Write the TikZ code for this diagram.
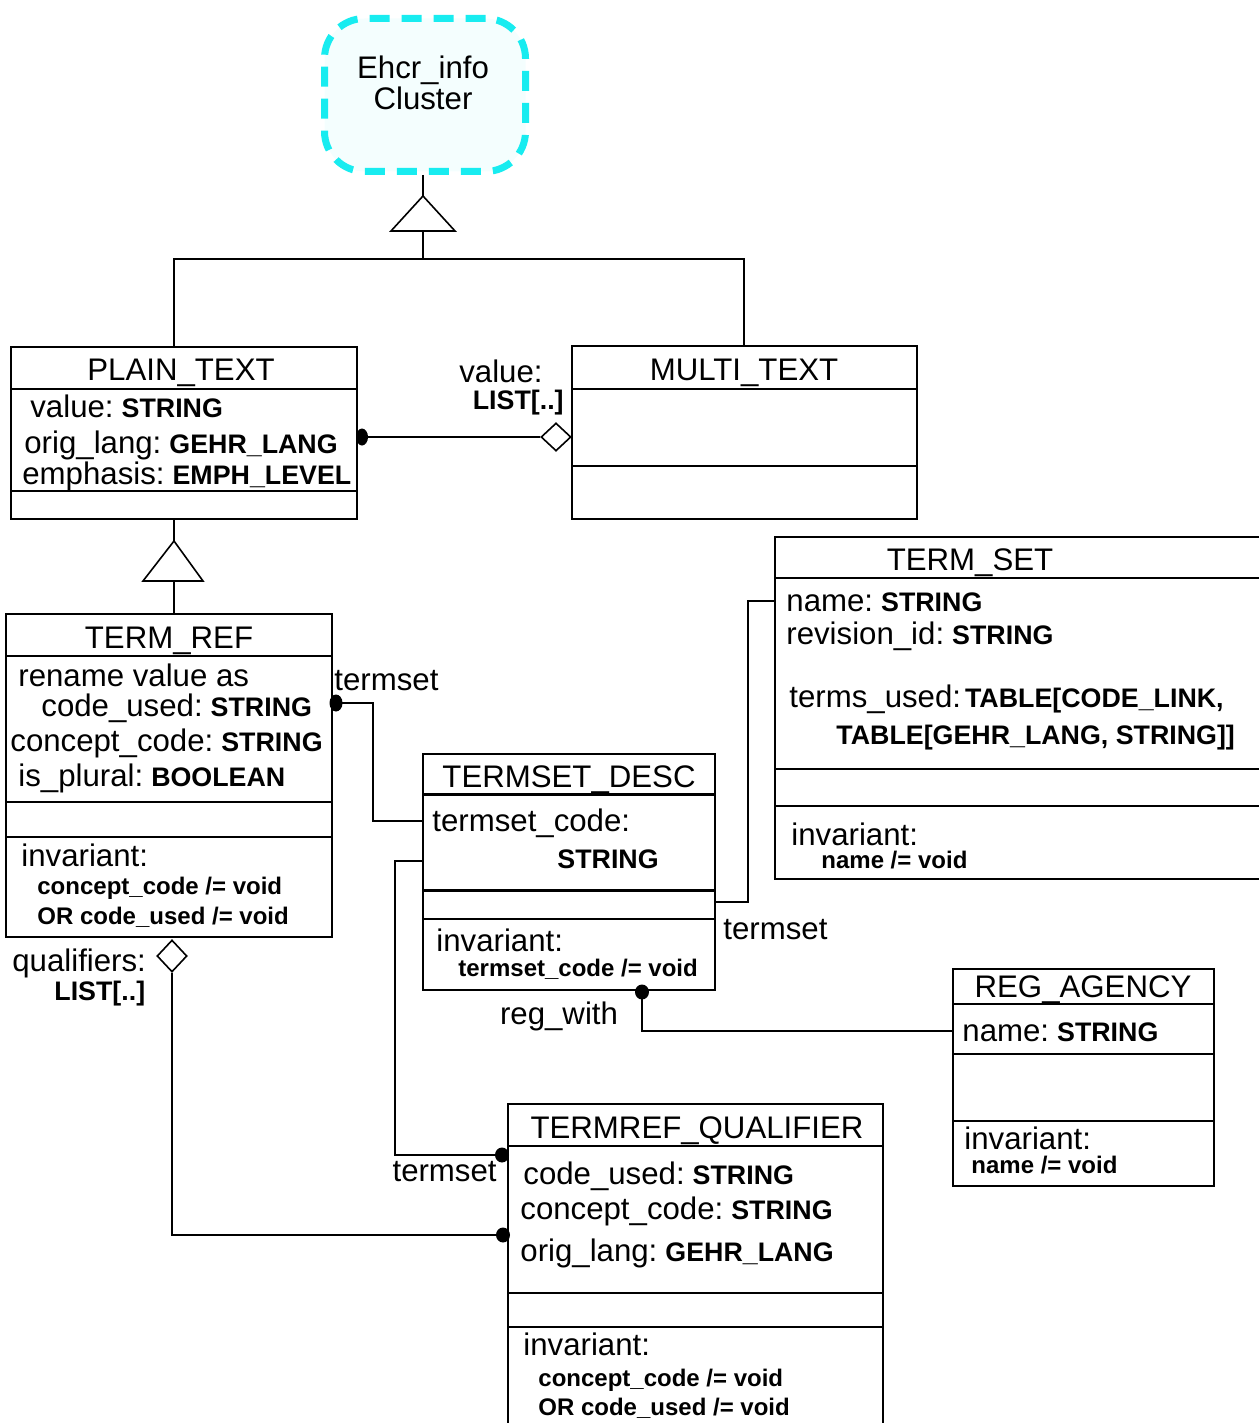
\documentclass[tikz,border=0pt]{standalone}
\usepackage{fontspec}
\setmainfont{Liberation Sans}
\usetikzlibrary{shapes.geometric,calc,fit}

\definecolor{clcyan}{RGB}{24,236,240}
\definecolor{clfill}{RGB}{244,254,254}

% type names (after a colon) and invariant clauses
\newcommand\ty[1]{{\fontsize{13.4}{15}\selectfont\bfseries #1}}
\newcommand\cty[1]{\hspace{4pt}\ty{#1}}
\newcommand\invt[1]{{\fontsize{12}{14}\selectfont\bfseries #1}}

\begin{document}
\begin{tikzpicture}[x=0.5pt,y=-0.5pt]
\tikzset{
  cls/.style={draw=black, line width=1pt, inner sep=0pt},
  txt/.style={inner sep=0pt, anchor=base west, font=\fontsize{15.6}{18}\selectfont},
  ttl/.style={inner sep=0pt, anchor=base, font=\fontsize{15.6}{18}\selectfont},
  rule/.style={line width=1pt},
  thickrule/.style={line width=1.5pt},
  conn/.style={line width=1pt},
  dot/.style={ellipse, fill=black, inner sep=0pt, minimum width=7pt, minimum height=7.5pt},
  agg/.style={diamond, draw=black, fill=white, line width=0.8pt, inner sep=0pt},
  gentri/.style={draw=black, line width=0.8pt, fill=white},
}
\useasboundingbox (0,0) rectangle (1258,1423);

% ---------- cluster ----------
\node[draw=clcyan, fill=clfill, line width=3.5pt, dash pattern=on 10pt off 6pt,
      rounded corners=20pt, minimum width=100.5pt, minimum height=76.5pt,
      inner sep=0pt] (cluster) at (425,95) {};
\node[ttl] (cl1) at (423,79) {Ehcr\_info};
\node[ttl] (cl2) at (423,110) {Cluster};

% ---------- PLAIN_TEXT ----------
\node[cls, fit={(11,347) (357,519)}] (pt) {};
\draw[rule] (pt.west |- 0,389) -- (pt.east |- 0,389);
\draw[rule] (pt.west |- 0,491) -- (pt.east |- 0,491);
\node[ttl] (pt-t) at (181,380) {PLAIN\_TEXT};
\node[txt] (pt-1) at (30,417) {value:\cty{STRING}};
\node[txt] (pt-2) at (24,453) {orig\_lang:\cty{GEHR\_LANG}};
\node[txt] (pt-3) at (22,484) {emphasis:\cty{EMPH\_LEVEL}};

% ---------- MULTI_TEXT ----------
\node[cls, fit={(572,346) (917,519)}] (mt) {};
\draw[rule] (mt.west |- 0,389) -- (mt.east |- 0,389);
\draw[rule] (mt.west |- 0,466) -- (mt.east |- 0,466);
\node[ttl] (mt-t) at (744,380) {MULTI\_TEXT};

% ---------- TERM_REF ----------
\node[cls, fit={(6,614) (332,937)}] (tr) {};
\draw[rule] (tr.west |- 0,656) -- (tr.east |- 0,656);
\draw[rule] (tr.west |- 0,802) -- (tr.east |- 0,802);
\draw[rule] (tr.west |- 0,837) -- (tr.east |- 0,837);
\node[ttl] (tr-t) at (169,648) {TERM\_REF};
\node[txt] (tr-1) at (18,686) {rename value as};
\node[txt] (tr-2) at (41,716) {code\_used:\cty{STRING}};
\node[txt] (tr-3) at (10,751) {concept\_code:\cty{STRING}};
\node[txt] (tr-4) at (18,786) {is\_plural:\cty{BOOLEAN}};
\node[txt] (tr-5) at (21,866) {invariant:};
\node[txt] (tr-6) at (37,894) {\invt{concept\_code /= void}};
\node[txt] (tr-7) at (37,924) {\invt{OR code\_used /= void}};

% ---------- TERMSET_DESC ----------
\node[cls, fit={(423,754) (715,990)}] (tsd) {};
\draw[thickrule] (tsd.west |- 0,794) -- (tsd.east |- 0,794);
\draw[thickrule] (tsd.west |- 0,890) -- (tsd.east |- 0,890);
\draw[rule] (tsd.west |- 0,919) -- (tsd.east |- 0,919);
\node[ttl] (tsd-t) at (569,787) {TERMSET\_DESC};
\node[txt] (tsd-1) at (432,831) {termset\_code:};
\node[txt] (tsd-2) at (557,868) {\ty{STRING}};
\node[txt] (tsd-3) at (436,951) {invariant:};
\node[txt] (tsd-4) at (458,976) {\invt{termset\_code /= void}};

% ---------- TERM_SET ----------
\node[cls, fit={(775,537) (1275,879)}] (ts) {};
\draw[rule] (ts.west |- 0,578) -- (ts.east |- 0,578);
\draw[rule] (ts.west |- 0,769) -- (ts.east |- 0,769);
\draw[rule] (ts.west |- 0,806) -- (ts.east |- 0,806);
\node[ttl] (ts-t) at (970,570) {TERM\_SET};
\node[txt] (ts-1) at (786,611) {name:\cty{STRING}};
\node[txt] (ts-2) at (786,644) {revision\_id:\cty{STRING}};
\node[txt] (ts-3) at (789,707) {terms\_used:\hspace{2pt}\ty{TABLE[CODE\_LINK,}};
\node[txt] (ts-4) at (836,744) {\ty{TABLE[GEHR\_LANG, STRING]]}};
\node[txt] (ts-5) at (791,845) {invariant:};
\node[txt] (ts-6) at (821,868) {\invt{name /= void}};

% ---------- REG_AGENCY ----------
\node[cls, fit={(953,969) (1214,1186)}] (ra) {};
\draw[rule] (ra.west |- 0,1004) -- (ra.east |- 0,1004);
\draw[rule] (ra.west |- 0,1054) -- (ra.east |- 0,1054);
\draw[rule] (ra.west |- 0,1121) -- (ra.east |- 0,1121);
\node[ttl] (ra-t) at (1083,997) {REG\_AGENCY};
\node[txt] (ra-1) at (962,1041) {name:\cty{STRING}};
\node[txt] (ra-2) at (964,1149) {invariant:};
\node[txt] (ra-3) at (971,1173) {\invt{name /= void}};

% ---------- TERMREF_QUALIFIER ----------
\node[cls, fit={(508,1104) (883,1440)}] (trq) {};
\draw[rule] (trq.west |- 0,1146) -- (trq.east |- 0,1146);
\draw[rule] (trq.west |- 0,1293) -- (trq.east |- 0,1293);
\draw[rule] (trq.west |- 0,1327) -- (trq.east |- 0,1327);
\node[ttl] (trq-t) at (697,1138) {TERMREF\_QUALIFIER};
\node[txt] (trq-1) at (523,1184) {code\_used:\cty{STRING}};
\node[txt] (trq-2) at (520,1219) {concept\_code:\cty{STRING}};
\node[txt] (trq-3) at (520,1261) {orig\_lang:\cty{GEHR\_LANG}};
\node[txt] (trq-4) at (523,1355) {invariant:};
\node[txt] (trq-5) at (538,1386) {\invt{concept\_code /= void}};
\node[txt] (trq-6) at (538,1415) {\invt{OR code\_used /= void}};

% ---------- inheritance ----------
\coordinate (g1a) at (423,196);
\coordinate (g1b) at (423,231);
\coordinate (bus) at (423,259);
\coordinate (busl) at (174,259);
\coordinate (busr) at (744,259);
\draw[conn] (cluster.south -| g1a) -- (g1a);
\draw[conn] (g1b) -- (bus);
\draw[conn] (pt.north -| busl) -- (busl) -- (busr) -- (mt.north -| busr);
\draw[gentri] (g1a) -- (391,231) -- (455,231) -- cycle;

\coordinate (g2a) at (174,541);
\coordinate (g2b) at (174,581);
\draw[conn] (pt.south -| g2a) -- (g2a);
\draw[conn] (g2b) -- (tr.north -| g2b);
\draw[gentri] (g2a) -- (143,581) -- (203,581) -- cycle;

% ---------- associations ----------
% PLAIN_TEXT <>-- MULTI_TEXT (value)
\node[dot, minimum width=6pt, minimum height=8.5pt] (d1) at (362,437) {};
\node[agg, minimum width=15pt, minimum height=14pt] (dm1) at (556,437) {};
\draw[conn] (d1.center) -- (dm1.west);
\node[txt, anchor=base east] (l-val) at (543,382) {value:};
\node[txt, anchor=base east] (l-list1) at (564,409) {\ty{LIST[..]}};

% TERM_REF -> TERMSET_DESC (termset)
\node[dot, minimum width=6.5pt, minimum height=8.5pt] (d2) at (336,703) {};
\coordinate (k1) at (373,703);
\draw[conn] (d2.center) -- (k1) |- (tsd.west |- 0,821);
\node[txt] (l-ts1) at (334,690) {termset};

% TERMSET_DESC -> TERM_SET (termset)
\coordinate (k2) at (748,601);
\draw[conn] (tsd.east |- 0,902) -| (k2) -- (ts.west |- k2);
\node[txt] (l-ts2) at (723,939) {termset};

% TERMREF_QUALIFIER -> TERMSET_DESC (termset)
\coordinate (k3) at (395,861);
\node[dot] (d3) at (502,1155) {};
\draw[conn] (tsd.west |- k3) -- (k3) |- (d3.center);
\node[txt, anchor=base east] (l-ts3) at (497,1181) {termset};

% TERM_REF <>-- TERMREF_QUALIFIER (qualifiers)
\node[agg, minimum width=15pt, minimum height=16pt] (dm2) at (172,956) {};
\node[dot] (d4) at (503,1235) {};
\draw[conn] (dm2.south) |- (d4.center);
\node[txt] (l-q) at (12,971) {qualifiers:};
\node[txt] (l-list2) at (54,1000) {\ty{LIST[..]}};

% TERMSET_DESC -> REG_AGENCY (reg_with)
\node[dot] (d5) at (642,992) {};
\draw[conn] (d5.center) |- (ra.west |- 0,1031);
\node[ttl] (l-reg) at (559,1024) {reg\_with};

\end{tikzpicture}
\end{document}
